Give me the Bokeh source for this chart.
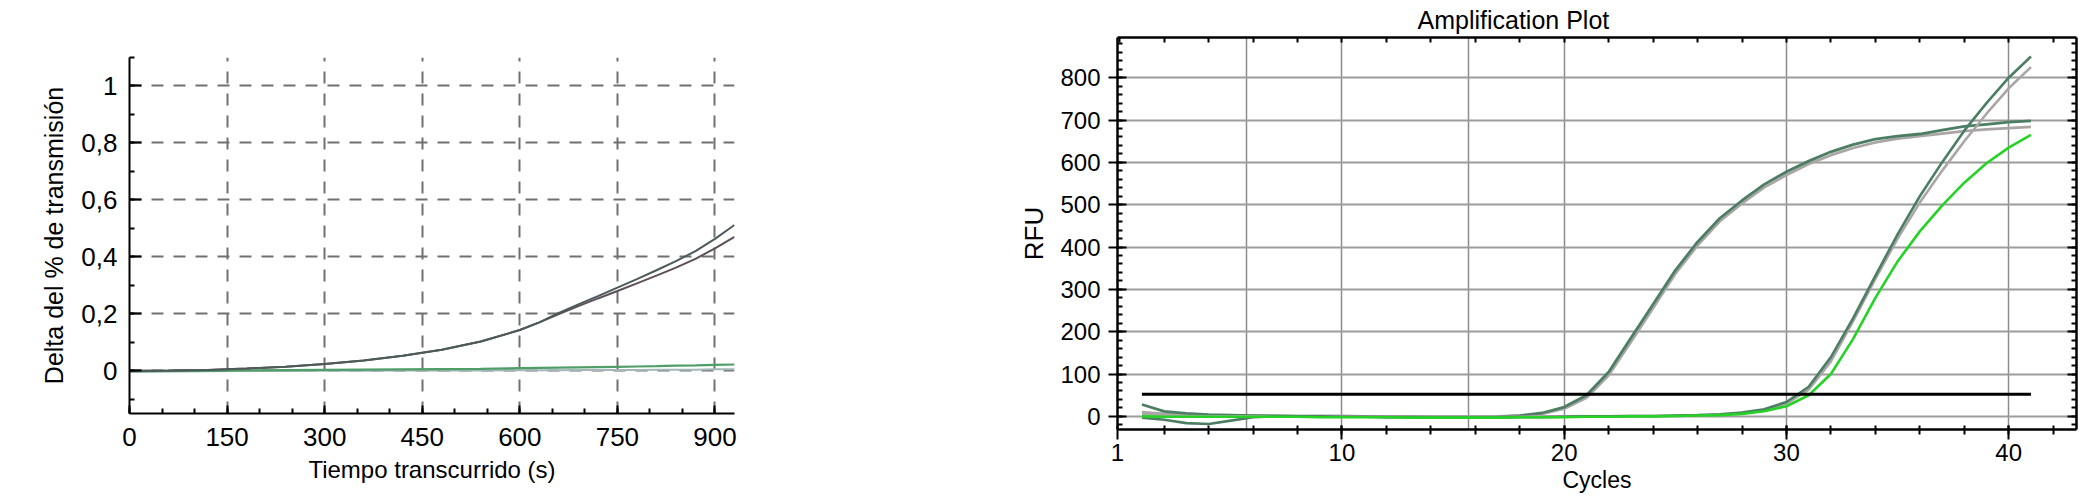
from bokeh.plotting import figure
from bokeh.layouts import row, column
from bokeh.models import (SingleIntervalTicker, FixedTicker, LinearAxis, Range1d,
                          CustomJSTickFormatter)
from bokeh.embed import file_html
from bokeh.resources import INLINE

FONT = "Liberation Sans"

# ---------------- left chart data ----------------
time_s = [0, 60, 120, 180, 240, 300, 360, 420, 480, 540, 600, 630, 660, 690,
          720, 750, 780, 810, 840, 870, 900, 930]
delta_upper = [0, 0.001, 0.003, 0.008, 0.014, 0.024, 0.036, 0.053, 0.074, 0.103,
               0.143, 0.17, 0.203, 0.233, 0.262, 0.292, 0.322, 0.353, 0.385,
               0.42, 0.463, 0.512]
delta_lower = [0, 0.001, 0.003, 0.008, 0.014, 0.024, 0.036, 0.053, 0.074, 0.103,
               0.143, 0.17, 0.199, 0.227, 0.254, 0.28, 0.307, 0.334, 0.362,
               0.393, 0.43, 0.47]
delta_green = [-0.002, -0.001, 0, 0.001, 0.002, 0.003, 0.004, 0.005, 0.006, 0.007,
               0.009, 0.01, 0.011, 0.012, 0.013, 0.014, 0.015, 0.016, 0.018,
               0.019, 0.021, 0.022]
delta_light = [-0.003, -0.002, -0.002, -0.001, -0.001, 0, 0, 0.001, 0.001, 0.001,
               0.002, 0.002, 0.002, 0.003, 0.003, 0.003, 0.003, 0.004, 0.004,
               0.004, 0.005, 0.005]

# ---------------- right chart data ----------------
cycles = list(range(1, 42))
rfu_a_dark = [28, 12, 7, 4, 3, 2, 1, 0, 0, 0, 0, -1, -1, -2, -2, -2, -1, 2, 8, 22,
              50, 105, 185, 265, 345, 412, 468, 510, 548, 578, 603, 625, 642, 655,
              662, 667, 676, 685, 690, 695, 698]
rfu_a_gray = [10, 6, 3, 2, 2, 2, 1, 1, 1, 1, 0, 0, 0, -1, -1, -1, 0, 2, 6, 18,
              44, 97, 176, 256, 337, 404, 461, 503, 541, 570, 596, 617, 634, 647,
              656, 662, 668, 674, 678, 681, 684]
rfu_b_dark = [-3, -8, -16, -18, -10, -2, 0, 0, 0, -1, -1, -2, -2, -3, -3, -3, -3,
              -2, -2, -1, 0, 0, 1, 1, 2, 3, 5, 9, 17, 34, 70, 140, 232, 332, 430,
              520, 600, 675, 740, 800, 850]
rfu_b_gray = [5, 2, 1, 0, 0, 0, 0, 0, 0, 0, 0, -1, -1, -1, -1, -1, -1, -1, 0, 0,
              0, 0, 1, 1, 1, 2, 4, 8, 15, 30, 63, 130, 225, 325, 420, 505, 580,
              650, 715, 775, 825]
rfu_b_green = [0, -1, -1, -1, -1, -1, -1, -1, -2, -2, -2, -2, -3, -3, -3, -3, -3,
               -2, -2, -2, -1, -1, 0, 0, 1, 2, 3, 6, 12, 24, 50, 100, 183, 280, 366,
               437, 498, 552, 598, 635, 665]
threshold_cycles = [1, 41]
threshold_rfu = [52, 52]

x_tick_labels_right = {-0.1: "1"}

# ================= left figure =================
p1 = figure(width=1008, height=496, output_backend="svg", toolbar_location=None,
            x_range=Range1d(0, 930), y_range=Range1d(-0.15, 1.1),
            min_border_left=129, min_border_right=274, min_border_top=57,
            min_border_bottom=83)
p1.outline_line_color = None

p1.line(time_s, delta_light, line_color="#a3b6b8", line_width=2)
p1.line(time_s, delta_green, line_color="#4f9e68", line_width=2.2)
p1.line(time_s, delta_lower, line_color="#5e4f5a", line_width=2)
p1.line(time_s, delta_upper, line_color="#4b5b58", line_width=2)

xa = p1.xaxis[0]
xa.ticker = SingleIntervalTicker(interval=150, num_minor_ticks=3)
ya = p1.yaxis[0]
ya.ticker = SingleIntervalTicker(interval=0.2, num_minor_ticks=2)
ya.formatter = CustomJSTickFormatter(
    code="return (Math.round(tick*10)/10).toString().replace('.', ',');")
for ax in (xa, ya):
    ax.axis_line_width = 2
    ax.axis_line_color = "black"
    ax.major_tick_line_color = "black"
    ax.minor_tick_line_color = "black"
    ax.major_tick_line_width = 2
    ax.minor_tick_line_width = 2
    ax.major_tick_out = 0
    ax.minor_tick_out = 0
    ax.major_label_text_font = FONT
    ax.major_label_text_font_size = "26px"
    ax.major_label_text_color = "black"
    ax.axis_label_text_font = FONT
    ax.axis_label_text_font_style = "normal"
    ax.axis_label_text_color = "black"
xa.axis_label_text_font_size = "24px"
ya.axis_label_text_font_size = "25px"
xa.major_tick_in = 8
xa.minor_tick_in = 5
ya.major_tick_in = 12
ya.minor_tick_in = 5
xa.major_label_standoff = 14
ya.major_label_standoff = 12
xa.axis_label = "Tiempo transcurrido (s)"
ya.axis_label = "Delta del % de transmisión"
xa.axis_label_standoff = 7
ya.axis_label_standoff = 10

p1.xgrid.ticker = SingleIntervalTicker(interval=150)
p1.ygrid.ticker = SingleIntervalTicker(interval=0.2)
for g in (p1.xgrid[0], p1.ygrid[0]):
    g.grid_line_color = "#707070"
    g.grid_line_width = 2
    g.grid_line_dash = "12 10"

# ================= right figure =================
p2 = figure(width=1084, height=496, output_backend="svg", toolbar_location=None,
            x_range=Range1d(-0.1, 43.05), y_range=Range1d(-31, 895),
            min_border_left=109, min_border_right=16, min_border_top=37,
            min_border_bottom=67, title="Amplification Plot")
p2.outline_line_color = None
p2.title.text_font = FONT
p2.title.text_font_size = "25px"
p2.title.text_font_style = "normal"
p2.title.text_color = "black"
p2.title.align = "left"
p2.title.offset = 300
p2.title.standoff = 4
p2.title.vertical_align = "top"

p2.xgrid.ticker = FixedTicker(ticks=[5.7, 10, 15.7, 20, 30, 40])
p2.xgrid.grid_line_color = "#8c8c8c"
p2.xgrid.grid_line_width = 1.5
p2.ygrid.ticker = SingleIntervalTicker(interval=100)
p2.ygrid.grid_line_color = "#9c9c9c"
p2.ygrid.grid_line_width = 2

p2.line(cycles, rfu_a_gray, line_color="#aaa6a6", line_width=2.8)
p2.line(cycles, rfu_a_dark, line_color="#4c7e63", line_width=2.8)
p2.line(cycles, rfu_b_gray, line_color="#aaa6a6", line_width=2.6)
p2.line(cycles, rfu_b_dark, line_color="#4c7e63", line_width=2.6)
p2.line(cycles, rfu_b_green, line_color="#26d226", line_width=2.6)
p2.line(threshold_cycles, threshold_rfu, line_color="black", line_width=3)

bx = p2.xaxis[0]
bx.ticker = FixedTicker(ticks=[-0.1, 10, 20, 30, 40],
                        minor_ticks=list(range(2, 43, 2)))
bx.major_label_overrides = x_tick_labels_right
by = p2.yaxis[0]
by.ticker = SingleIntervalTicker(interval=100, num_minor_ticks=5)

top_ax = LinearAxis(ticker=SingleIntervalTicker(interval=2, num_minor_ticks=0),
                    formatter=CustomJSTickFormatter(code="return '';"),
                    major_tick_in=5, major_tick_out=0,
                    major_label_standoff=0, axis_label_standoff=0,
                    major_label_text_font_size="1px")
right_ax = LinearAxis(ticker=SingleIntervalTicker(interval=100, num_minor_ticks=5),
                      formatter=CustomJSTickFormatter(code="return '';"),
                      major_tick_in=9, major_tick_out=0, minor_tick_in=5,
                      minor_tick_out=0, major_label_standoff=0,
                      axis_label_standoff=0, major_label_text_font_size="1px")
p2.add_layout(top_ax, "above")
p2.add_layout(right_ax, "right")

for ax in (bx, by, top_ax, right_ax):
    ax.axis_line_width = 2.5
    ax.axis_line_color = "black"
    ax.major_tick_line_color = "black"
    ax.minor_tick_line_color = "black"
    ax.major_tick_line_width = 2
    ax.minor_tick_line_width = 2
    ax.major_label_text_font = FONT
    ax.major_label_text_color = "black"
    ax.axis_label_text_font = FONT
    ax.axis_label_text_font_style = "normal"
    ax.axis_label_text_color = "black"
for ax in (bx, by):
    ax.major_label_text_font_size = "24px"
    ax.axis_label_text_font_size = "23px"
bx.major_tick_in = 4
bx.major_tick_out = 10
bx.minor_tick_in = 4
bx.minor_tick_out = 5
bx.major_label_standoff = 4
bx.axis_label = "Cycles"
bx.axis_label_standoff = 3
by.major_tick_in = 9
by.major_tick_out = 9
by.minor_tick_in = 5
by.minor_tick_out = 0
by.major_label_standoff = 8
by.axis_label = "RFU"
by.axis_label_text_font_size = "26px"
by.axis_label_standoff = 8

layout = row(column(p1), column(p2))
with open("out.html", "w") as f:
    f.write(file_html(layout, INLINE))
